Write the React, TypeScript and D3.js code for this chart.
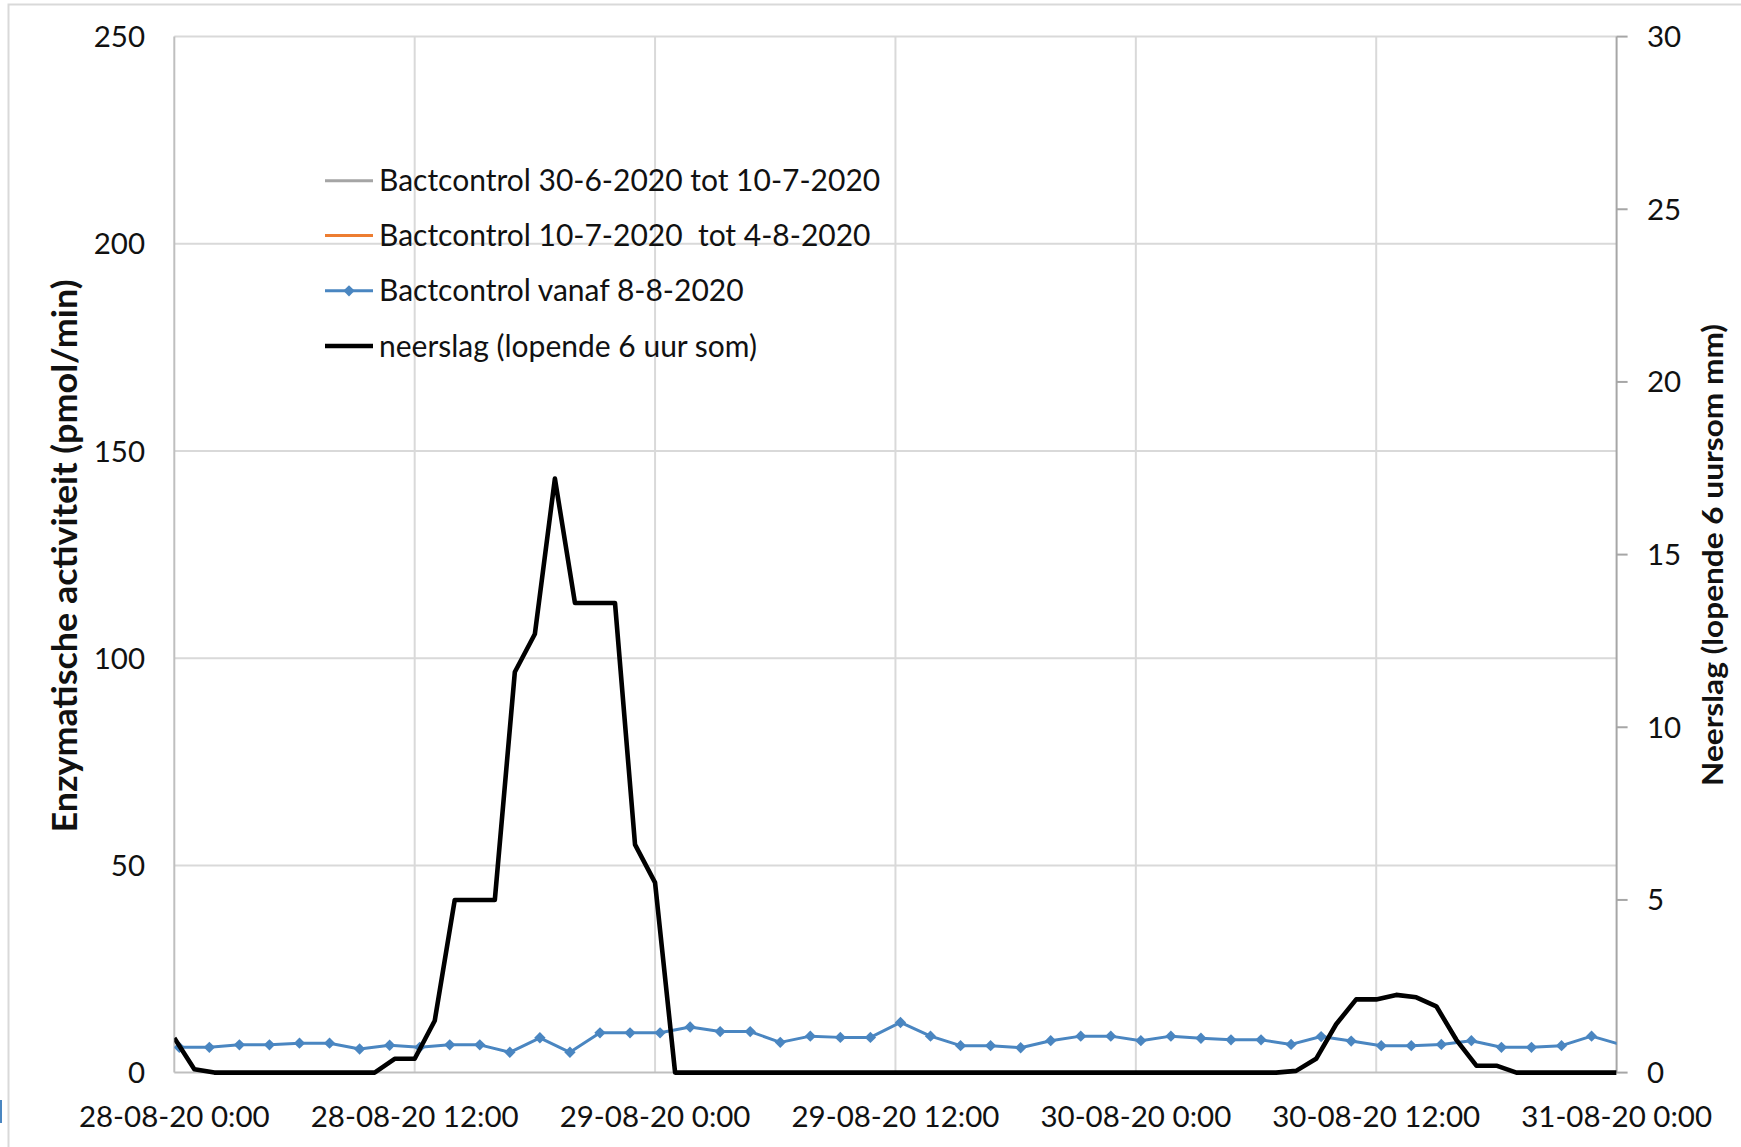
import React, { useEffect, useRef } from "react";
import * as d3 from "d3";

// ---- data ----
const xTickLabels = [
  "28-08-20 0:00",
  "28-08-20 12:00",
  "29-08-20 0:00",
  "29-08-20 12:00",
  "30-08-20 0:00",
  "30-08-20 12:00",
  "31-08-20 0:00",
];
const xTickHours = [0, 12, 24, 36, 48, 60, 72];
const leftTicks = [0, 50, 100, 150, 200, 250];
const rightTicks = [0, 5, 10, 15, 20, 25, 30];

// Bactcontrol vanaf 8-8-2020 (hours after 28-08-20 0:00)
const blueHours = [
  0.25, 1.75, 3.25, 4.75, 6.25, 7.75, 9.25, 10.75, 12.25, 13.75, 15.25, 16.75,
  18.25, 19.75, 21.25, 22.75, 24.25, 25.75, 27.25, 28.75, 30.25, 31.75, 33.25,
  34.75, 36.25, 37.75, 39.25, 40.75, 42.25, 43.75, 45.25, 46.75, 48.25, 49.75,
  51.25, 52.75, 54.25, 55.75, 57.25, 58.75, 60.25, 61.75, 63.25, 64.75, 66.25,
  67.75, 69.25, 70.75, 72.25,
];
const blueValues = [
  6.1, 6.1, 6.7, 6.7, 7.1, 7.1, 5.7, 6.6, 6.1, 6.7, 6.7, 4.9, 8.4, 4.9, 9.6,
  9.6, 9.6, 11.0, 9.9, 9.9, 7.3, 8.8, 8.5, 8.5, 12.1, 8.8, 6.5, 6.5, 6.0, 7.7,
  8.8, 8.8, 7.7, 8.8, 8.3, 7.9, 7.9, 6.8, 8.7, 7.6, 6.5, 6.5, 6.8, 7.7, 6.1,
  6.1, 6.5, 8.8, 6.7,
];

// neerslag (lopende 6 uur som), hourly
const rainHours = [
  0, 1, 2, 3, 4, 5, 6, 7, 8, 9, 10, 11, 12, 13, 14, 15, 16, 17, 18, 19, 20, 21,
  22, 23, 24, 25, 26, 27, 28, 29, 30, 31, 32, 33, 34, 35, 36, 37, 38, 39, 40,
  41, 42, 43, 44, 45, 46, 47, 48, 49, 50, 51, 52, 53, 54, 55, 56, 57, 58, 59,
  60, 61, 62, 63, 64, 65, 66, 67, 68, 69, 70, 71, 72,
];
const rainValues = [
  1.0, 0.1, 0, 0, 0, 0, 0, 0, 0, 0, 0, 0.4, 0.4, 1.5, 5.0, 5.0, 5.0, 11.6, 12.7,
  17.2, 13.6, 13.6, 13.6, 6.6, 5.5, 0, 0, 0, 0, 0, 0, 0, 0, 0, 0, 0, 0, 0, 0, 0,
  0, 0, 0, 0, 0, 0, 0, 0, 0, 0, 0, 0, 0, 0, 0, 0, 0.05, 0.4, 1.4, 2.12, 2.12,
  2.25, 2.18, 1.92, 0.95, 0.2, 0.2, 0, 0, 0, 0, 0, 0,
];

const legendLabels = [
  "Bactcontrol 30-6-2020 tot 10-7-2020",
  "Bactcontrol 10-7-2020  tot 4-8-2020",
  "Bactcontrol vanaf 8-8-2020",
  "neerslag (lopende 6 uur som)",
];
const legendColors = ["#A5A5A5", "#ED7D31", "#4A86C1", "#000000"];

const W = 1741;
const H = 1147;
const FONT = "Lato, 'Open Sans', sans-serif";

export default function App() {
  const ref = useRef<SVGSVGElement>(null);

  useEffect(() => {
    const svg = d3.select(ref.current);
    svg.selectAll("*").remove();

    const left = 174.3, right = 1616.6, top = 36.6, bottom = 1072.6;
    const x = d3.scaleLinear().domain([0, 72]).range([left, right]);
    const yL = d3.scaleLinear().domain([0, 250]).range([bottom, top]);
    const yR = d3.scaleLinear().domain([0, 30]).range([bottom, top]);

    svg.append("rect").attr("width", W).attr("height", H).attr("fill", "#fff");

    // chart border
    svg.append("path")
      .attr("d", `M8.5,${H} V4.5 H${W}`)
      .attr("fill", "none").attr("stroke", "#d9d9d9").attr("stroke-width", 2);
    svg.append("rect").attr("x", 0).attr("y", 1100).attr("width", 2).attr("height", 23).attr("fill", "#4A86C1");

    // gridlines
    const g = svg.append("g");
    g.selectAll("line.h").data(leftTicks.filter((d) => d > 0)).join("line")
      .attr("x1", left).attr("x2", right)
      .attr("y1", (d) => yL(d)).attr("y2", (d) => yL(d))
      .attr("stroke", "#d9d9d9").attr("stroke-width", 2);
    g.selectAll("line.v").data(xTickHours.slice(1, -1)).join("line")
      .attr("x1", (d) => x(d)).attr("x2", (d) => x(d))
      .attr("y1", top).attr("y2", bottom)
      .attr("stroke", "#d9d9d9").attr("stroke-width", 2);

    // axes lines
    svg.append("line").attr("x1", left).attr("x2", left).attr("y1", top).attr("y2", bottom)
      .attr("stroke", "#bfbfbf").attr("stroke-width", 2);
    svg.append("line").attr("x1", left).attr("x2", right).attr("y1", bottom).attr("y2", bottom)
      .attr("stroke", "#bfbfbf").attr("stroke-width", 2);
    svg.append("line").attr("x1", right).attr("x2", right).attr("y1", top).attr("y2", bottom)
      .attr("stroke", "#a6a6a6").attr("stroke-width", 2);
    svg.selectAll("line.rt").data(rightTicks).join("line")
      .attr("x1", right).attr("x2", right + 11)
      .attr("y1", (d) => yR(d)).attr("y2", (d) => yR(d))
      .attr("stroke", "#a6a6a6").attr("stroke-width", 2);

    // tick labels
    svg.append("g").selectAll("text").data(leftTicks).join("text")
      .attr("x", 145).attr("y", (d) => yL(d) + 10.5)
      .attr("text-anchor", "end").attr("font-family", FONT).attr("font-size", 29.5)
      .attr("fill", "#111").text((d) => d);
    svg.append("g").selectAll("text").data(rightTicks).join("text")
      .attr("x", 1647).attr("y", (d) => yR(d) + 10.5)
      .attr("text-anchor", "start").attr("font-family", FONT).attr("font-size", 29.5)
      .attr("fill", "#111").text((d) => d);
    svg.append("g").selectAll("text").data(xTickLabels).join("text")
      .attr("x", (_d, i) => x(xTickHours[i])).attr("y", 1126.5)
      .attr("text-anchor", "middle").attr("font-family", FONT).attr("font-size", 29.5)
      .attr("fill", "#111").text((d) => d);

    // axis titles
    svg.append("text")
      .attr("transform", `translate(77,556) rotate(-90)`)
      .attr("text-anchor", "middle").attr("font-family", FONT).attr("font-weight", "bold")
      .attr("font-size", 34).attr("fill", "#111")
      .attr("textLength", 553).attr("lengthAdjust", "spacingAndGlyphs")
      .text("Enzymatische activiteit (pmol/min)");
    svg.append("text")
      .attr("transform", `translate(1723,555) rotate(-90)`)
      .attr("text-anchor", "middle").attr("font-family", FONT).attr("font-weight", "bold")
      .attr("font-size", 28).attr("fill", "#111")
      .attr("textLength", 462).attr("lengthAdjust", "spacingAndGlyphs")
      .text("Neerslag (lopende 6 uursom mm)");

    // clip
    svg.append("defs").append("clipPath").attr("id", "plotclip")
      .append("rect").attr("x", left).attr("y", top - 10).attr("width", right - left).attr("height", bottom - top + 20);

    const plot = svg.append("g").attr("clip-path", "url(#plotclip)");

    const blue = blueHours.map((h, i) => ({ h, v: blueValues[i] }));
    const lineL = d3.line<{ h: number; v: number }>().x((d) => x(d.h)).y((d) => yL(d.v));
    plot.append("path").datum(blue).attr("d", lineL)
      .attr("fill", "none").attr("stroke", "#4A86C1").attr("stroke-width", 3)
      .attr("stroke-linejoin", "round");
    const diamond = d3.symbol().type(d3.symbolDiamond2).size(82);
    plot.selectAll("path.m").data(blue.filter((d) => d.h <= 72)).join("path")
      .attr("transform", (d) => `translate(${x(d.h)},${yL(d.v)})`)
      .attr("d", diamond).attr("fill", "#4A86C1");

    const rain = rainHours.map((h, i) => ({ h, v: rainValues[i] }));
    const lineR = d3.line<{ h: number; v: number }>().x((d) => x(d.h)).y((d) => yR(d.v));
    plot.append("path").datum(rain).attr("d", lineR)
      .attr("fill", "none").attr("stroke", "#000").attr("stroke-width", 4.6)
      .attr("stroke-linejoin", "round");

    // legend
    const legY = [180.7, 235.5, 290.8, 346];
    const lg = svg.append("g");
    legendLabels.forEach((lab, i) => {
      lg.append("line").attr("x1", 325).attr("x2", 373)
        .attr("y1", legY[i]).attr("y2", legY[i])
        .attr("stroke", legendColors[i]).attr("stroke-width", i === 3 ? 4.6 : 3);
      if (i === 2) {
        lg.append("path").attr("transform", `translate(349,${legY[i]})`)
          .attr("d", diamond).attr("fill", legendColors[i]);
      }
      lg.append("text").attr("x", 379).attr("y", legY[i] + 10.5)
        .attr("font-family", FONT).attr("font-size", 30).attr("fill", "#111")
        .attr("xml:space", "preserve").style("white-space", "pre")
        .text(lab);
    });
  }, []);

  return (
    <svg
      ref={ref}
      width={W}
      height={H}
      style={{ position: "absolute", left: 0, top: 0, display: "block" }}
    />
  );
}
